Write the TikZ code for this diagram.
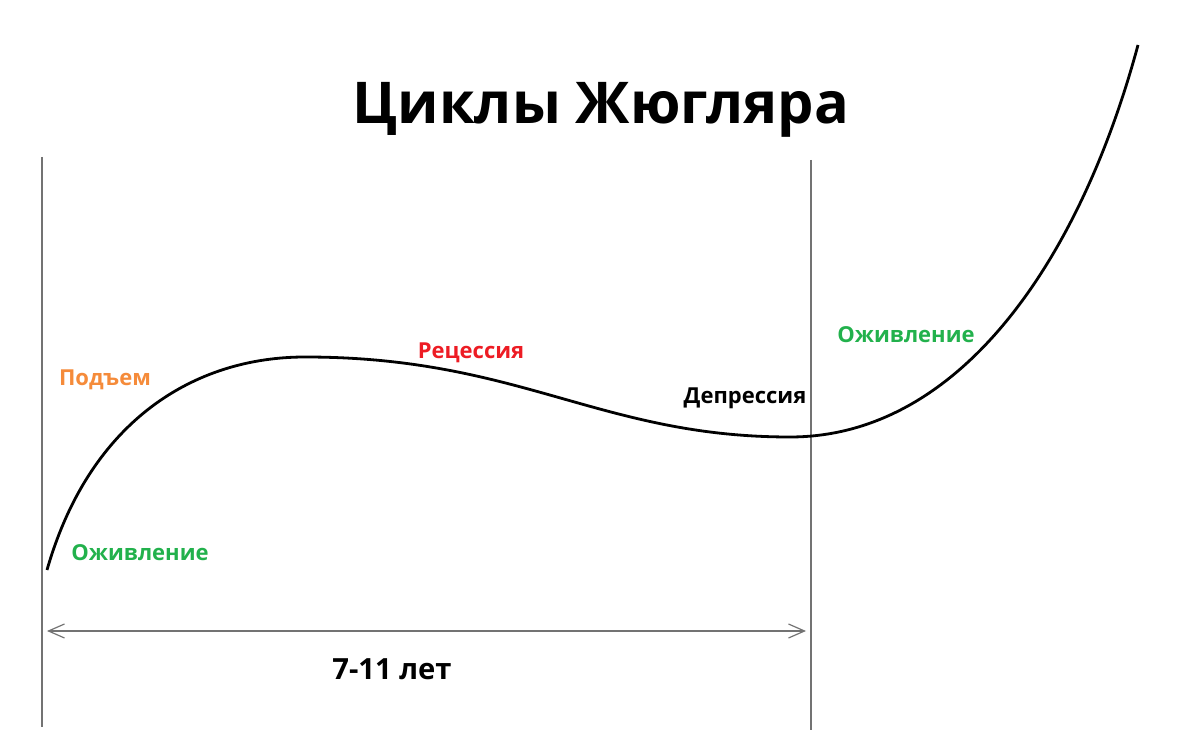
\documentclass[tikz,border=0pt]{standalone}
\usepackage{fontspec}
\setmainfont{Open Sans}
\usetikzlibrary{arrows.meta}
\definecolor{upcol}{RGB}{245,139,58}
\definecolor{reccol}{RGB}{237,28,36}
\definecolor{revcol}{RGB}{34,177,76}
\begin{document}
\begin{tikzpicture}[x=0.5pt,y=-0.5pt,
        phase/.style={font=\bfseries\fontsize{11}{13}\selectfont,inner sep=0pt},
        guide/.style={draw=black!55,line width=0.6pt}]
        \useasboundingbox (0,0) rectangle (1200,731);
        % title
        \node[font=\bfseries\fontsize{28.8}{34}\selectfont] (title) at (601,110) {Циклы Жюгляра};
        % cycle borders
        \coordinate (lt) at (42,157);
        \coordinate (lb) at (42,727);
        \coordinate (rt) at (811,160);
        \coordinate (rb) at (811,730);
        \draw[guide] (lt) -- (lb);
        \draw[guide] (rt) -- (rb);
        % curve
        \coordinate (c0) at (47,570);
        \coordinate (cmax) at (305,357);
        \coordinate (cmin) at (790,437);
        \coordinate (cend) at (1138,45);
        \draw[line width=1.4pt]
        (c0) .. controls (90,420) and (195,357) .. (cmax)
        .. controls (520,357) and (600,437) .. (cmin)
        .. controls (960,437) and (1080,260) .. (cend);
        % phases
        \node[phase, text=upcol] (up) at (105,380) {Подъем};
        \node[phase, text=reccol] (rec) at (471,353) {Рецессия};
        \node[phase] (dep) at (745,398) {Депрессия};
        \node[phase, text=revcol] (rev1) at (140,553) {Оживление};
        \node[phase, text=revcol] (rev2) at (906,335) {Оживление};
        % period
        \coordinate (pl) at (47,631);
        \coordinate (pr) at (806,631);
        \draw[guide, {Straight Barb[length=8pt,width=7pt]}-{Straight Barb[length=8pt,width=7pt]}] (pl) -- (pr);
        \node[font=\bfseries\fontsize{14.6}{17}\selectfont] (len) at (392,669) {7-11 лет};
\end{tikzpicture}
\end{document}
